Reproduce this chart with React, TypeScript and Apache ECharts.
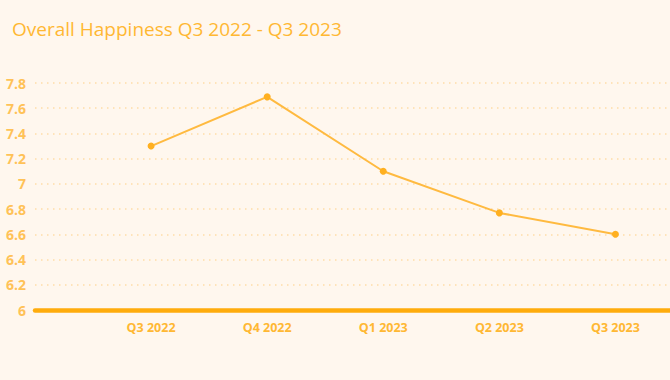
import React, { useEffect, useRef } from "react";
import * as echarts from "echarts";

const categories = ["Q3 2022", "Q4 2022", "Q1 2023", "Q2 2023", "Q3 2023"];
const happiness = [7.3, 7.69, 7.1, 6.77, 6.6];
const yTicks = [6, 6.2, 6.4, 6.6, 6.8, 7, 7.2, 7.4, 7.6, 7.8];
const title = "Overall Happiness Q3 2022 - Q3 2023";

export default function App() {
  const ref = useRef<HTMLDivElement>(null);
  useEffect(() => {
    if (!ref.current) return;
    const chart = echarts.init(ref.current, null, { renderer: "svg" });
    const font = "'Open Sans', Lato, sans-serif";
    chart.setOption({
      animation: false,
      backgroundColor: "#FFF7EE",
      textStyle: { fontFamily: font },
      title: {
        text: title,
        left: 7,
        top: 14,
        textStyle: { color: "#FFB833", fontSize: 19, fontWeight: "normal", fontFamily: font },
      },
      grid: { left: 35, right: 0, top: 83, bottom: 70 },
      xAxis: {
        type: "value",
        min: 0,
        max: 5.47,
        interval: 1,
        axisLine: { show: true, onZero: false, lineStyle: { color: "#FFAC0C", width: 4.5 } },
        axisTick: { show: false },
        splitLine: { show: false },
        axisLabel: {
          color: "#FFB833",
          fontSize: 12.5,
          fontWeight: "bold",
          margin: 11,
          showMinLabel: true,
          showMaxLabel: false,
          formatter: (v: number) => {
            const i = Math.round(v);
            return Math.abs(v - i) < 1e-6 && i >= 1 && i <= categories.length ? categories[i - 1] : "";
          },
        },
      },
      yAxis: {
        type: "value",
        min: yTicks[0],
        max: yTicks[yTicks.length - 1],
        interval: 0.2,
        axisLine: { show: false },
        axisTick: { show: false },
        axisLabel: {
          color: "#FFC257",
          fontSize: 14,
          fontWeight: "bold",
          margin: 9,
          formatter: (v: number) => String(Math.round(v * 10) / 10),
        },
        splitLine: { show: true, lineStyle: { color: "#FFDDA8", width: 1.5, type: [1.5, 4.5] } },
      },
      series: [
        {
          type: "line",
          data: happiness.map((v, i) => [i + 1, v]),
          symbol: "circle",
          symbolSize: 7,
          itemStyle: { color: "#FFB020" },
          lineStyle: { color: "#FFBA40", width: 2 },
        },
      ],
    });
    return () => chart.dispose();
  }, []);
  return (
    <div
      ref={ref}
      style={{ position: "fixed", left: 0, top: 0, width: 670, height: 380 }}
    />
  );
}
